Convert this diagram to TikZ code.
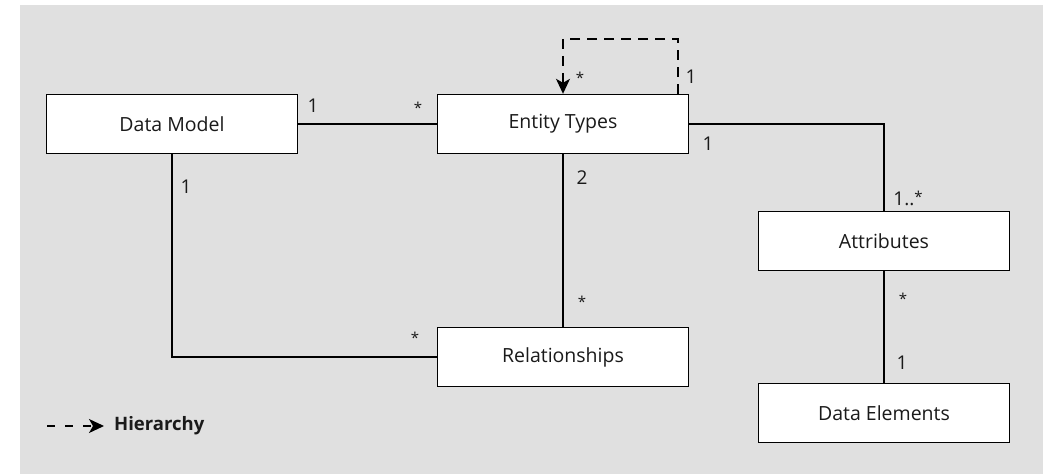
\documentclass[tikz,border=0pt]{standalone}
\usepackage{fontspec}
\setmainfont{Open Sans}
\usetikzlibrary{arrows.meta}
\definecolor{panel}{HTML}{E0E0E0}
\definecolor{ink}{HTML}{1A1A1A}
\tikzset{
  entity/.style={draw, line width=1.4pt, fill=white, minimum width=251pt,
    minimum height=59pt, inner sep=0pt, text=ink, font=\fontsize{19.5}{22}\selectfont},
  link/.style={line width=1.4pt},
  mult/.style={font=\fontsize{19}{22}\selectfont, inner sep=0pt, text=ink},
  star/.style={font=\fontsize{15}{16}\selectfont, inner sep=0pt, text=ink},
  hier/.style={line width=1.4pt, dash pattern=on 10pt off 7pt,
    -{Stealth[length=15pt,width=14pt,inset=4pt]}},
}
\begin{document}
\begin{tikzpicture}[x=1pt,y=-1pt]
\useasboundingbox (0,0) rectangle (1045,474);
\fill[panel] (20,5) rectangle (1043,474);

% classes
\node[entity] (dm)  at (172,124) {Data Model};
\node[entity] (et)  at (563,124) {Entity Types};
\node[entity] (rel) at (563,357) {Relationships};
\node[entity] (att) at (884,241) {Attributes};
\node[entity] (de)  at (884,413) {Data Elements};

% associations
\draw[link] (dm.east) -- (et.west);
\draw[link] (dm.south) |- (rel.west);
\draw[link] (et.south) -- (rel.north);
\draw[link] (et.east) -| (att.north);
\draw[link] (att.south) -- (de.north);

% self hierarchy of entity types
\coordinate (hstart) at ([xshift=115pt]et.north);
\draw[hier] (hstart) -- ++(0,-55) -| (et.north);

% multiplicities
\node[mult] at (313,106) {1};
\node[star] at (418,108) {*};
\node[mult] at (186,187) {1};
\node[mult] at (582,178) {2};
\node[star] at (582,302) {*};
\node[star] at (415,338) {*};
\node[star] at (580,78) {*};
\node[mult] at (691,77) {1};
\node[mult] at (708,144) {1};
\node[mult] at (908,198) {1..\raisebox{3pt}{\fontsize{15}{16}\selectfont*}};
\node[star] at (903,299) {*};
\node[mult] at (902,363) {1};

% legend
\coordinate (lg1) at (47,426);
\coordinate (lg2) at (104,426);
\draw[hier, dash pattern=on 8pt off 10pt] (lg1) -- (lg2);
\node[anchor=west, font=\fontsize{18.5}{20}\selectfont\bfseries, inner sep=0pt, text=ink] (lgt) at (114,426) {Hierarchy};
\end{tikzpicture}
\end{document}
